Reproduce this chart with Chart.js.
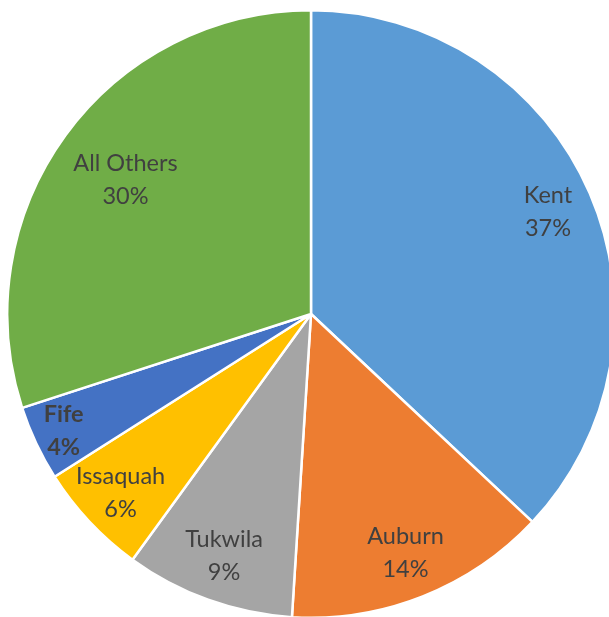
<!DOCTYPE html>
<html>
<head>
<meta charset="utf-8">
<script src="https://cdn.jsdelivr.net/npm/chart.js@4.4.0/dist/chart.umd.min.js"></script>
<style>
  html, body { margin: 0; padding: 0; background: #fff; overflow: hidden; }
  #wrap { width: 609px; height: 617px; overflow: hidden; position: relative; }
  canvas { position: absolute; left: 0; top: 0; }
</style>
</head>
<body>
<div id="wrap"><canvas id="chart" width="622" height="628"></canvas></div>
<script>
// dades del grafic
const categories = ['Kent', 'Auburn', 'Tukwila', 'Issaquah', 'Fife', 'All Others'];
const shares = [37, 14, 9, 6, 4, 30];
const colors = ['#5B9BD5', '#ED7D31', '#A5A5A5', '#FFC000', '#4472C4', '#70AD47'];

// on va cada etiqueta (fraccio del radi), com ho fa Excel
const labelRadius = [0.85, 0.845, 0.845, 0.86, 0.9, 0.755];
const boldLabels = ['Fife'];

const sliceLabels = {
    id: 'sliceLabels',
    afterDatasetsDraw(chart) {
        const ctx = chart.ctx;
        const meta = chart.getDatasetMeta(0);
        meta.data.forEach((arc, i) => {
            const mid = (arc.startAngle + arc.endAngle) / 2;
            const r = arc.outerRadius * labelRadius[i];
            const x = arc.x + Math.cos(mid) * r;
            const y = arc.y + Math.sin(mid) * r;
            const bold = boldLabels.includes(categories[i]);
            ctx.save();
            ctx.fillStyle = '#404040';
            ctx.font = (bold ? 'bold ' : '') + '23.5px Lato, sans-serif';
            ctx.textAlign = 'center';
            ctx.textBaseline = 'middle';
            ctx.fillText(categories[i], x, y - 16);
            ctx.fillText(shares[i] + '%', x, y + 17);
            ctx.restore();
        });
    }
};

new Chart(document.getElementById('chart'), {
    type: 'pie',
    data: {
        labels: categories,
        datasets: [{
            data: shares,
            backgroundColor: colors,
            borderColor: '#ffffff',
            borderWidth: 2.5
        }]
    },
    options: {
        responsive: false,
        animation: false,
        layout: { padding: 6 },
        plugins: {
            legend: { display: false },
            tooltip: { enabled: false }
        }
    },
    plugins: [sliceLabels]
});
</script>
</body>
</html>
